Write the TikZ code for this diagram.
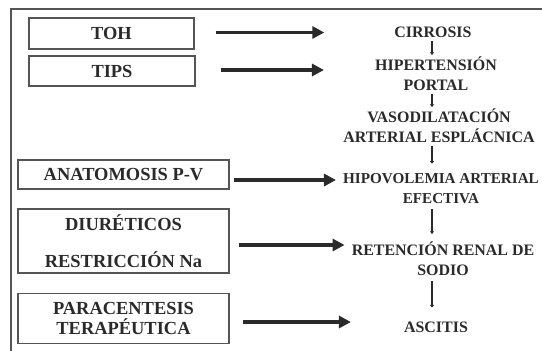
\documentclass[tikz,border=0pt]{standalone}
\usepackage{fontspec}
\setmainfont{Liberation Serif}
\usetikzlibrary{arrows.meta}
\definecolor{ink}{HTML}{2A2A2A}
\definecolor{boxline}{HTML}{555555}
\begin{document}
\begin{tikzpicture}[x=1bp,y=-1bp,
  leftbox/.style={draw=boxline,line width=1.4bp,inner sep=0pt,align=center,
    text=ink,font=\bfseries\fontsize{18.5}{20}\selectfont},
  righttext/.style={inner sep=0pt,align=center,text=ink,
    font=\bfseries\fontsize{16}{20}\selectfont},
  harrow/.style={draw=ink,line width=3.5bp,-{Triangle[length=12bp,width=12bp]}},
  varrow/.style={draw=ink,line width=2.8bp,-{Triangle[length=2.5bp,width=4bp]}}]
\useasboundingbox (0,0) rectangle (542,350);
\fill[white] (0,0) rectangle (542,350);
% frame
\draw[boxline,line width=1.2bp] (11,352) -- (11,9) -- (544,9);
% left boxes
\node[leftbox,minimum width=165bp,minimum height=31bp] (toh) at (111.5,33.5) {TOH};
\node[leftbox,minimum width=166bp,minimum height=30bp] (tips) at (112,71) {TIPS};
\node[leftbox,minimum width=211bp,minimum height=29bp] (anat) at (123.5,174.5) {ANATOMOSIS P-V};
\node[leftbox,minimum width=211bp,minimum height=64bp] (diur) at (123.5,241) {DIURÉTICOS\\[17bp]RESTRICCIÓN Na};
\node[leftbox,minimum width=211bp,minimum height=50bp] (para) at (123.5,318.5) {PARACENTESIS\\TERAPÉUTICA};
% right texts
\node[righttext] (cirr) at (433,32) {CIRROSIS};
\node[righttext] (hiper) at (436,74) {HIPERTENSIÓN\\PORTAL};
\node[righttext] (vaso) at (439,126) {VASODILATACIÓN\\ARTERIAL ESPLÁCNICA};
\node[righttext,font=\bfseries\fontsize{15.2}{20}\selectfont] (hipo) at (441,189) {HIPOVOLEMIA ARTERIAL\\EFECTIVA};
\node[righttext] (ret) at (443,259) {RETENCIÓN RENAL DE\\SODIO};
\node[righttext] (asc) at (436,327) {ASCITIS};
\coordinate (axis) at (432,0);
% horizontal arrows
\draw[harrow,shorten <=21bp,shorten >=70bp] ([yshift=1bp]toh.east) -- ([yshift=1bp]toh.east -| cirr.west);
\draw[harrow,shorten <=25bp,shorten >=51bp] ([yshift=1bp]tips.east) -- ([yshift=1bp]tips.east -| hiper.west);
\draw[harrow,shorten <=4bp,shorten >=7bp] ([yshift=-5.5bp]anat.east) -- ([yshift=-5.5bp]anat.east -| hipo.west);
\draw[harrow,shorten <=9bp,shorten >=7bp] ([yshift=-4bp]diur.east) -- ([yshift=-4bp]diur.east -| ret.west);
\draw[harrow,shorten <=13bp,shorten >=53bp] ([yshift=-3.5bp]para.east) -- ([yshift=-3.5bp]para.east -| asc.west);
% vertical connectors
\draw[varrow,shorten <=3bp,shorten >=2bp] (axis |- cirr.south) -- (axis |- hiper.north);
\draw[varrow,shorten <=3bp,shorten >=2bp] (axis |- hiper.south) -- (axis |- vaso.north);
\draw[varrow,shorten <=3bp,shorten >=10bp] (axis |- vaso.south) -- (axis |- hipo.north);
\draw[varrow,shorten <=5bp,shorten >=8bp] (axis |- hipo.south) -- (axis |- ret.north);
\draw[varrow,shorten <=5bp,shorten >=14bp] (axis |- ret.south) -- (axis |- asc.north);
\end{tikzpicture}
\end{document}
